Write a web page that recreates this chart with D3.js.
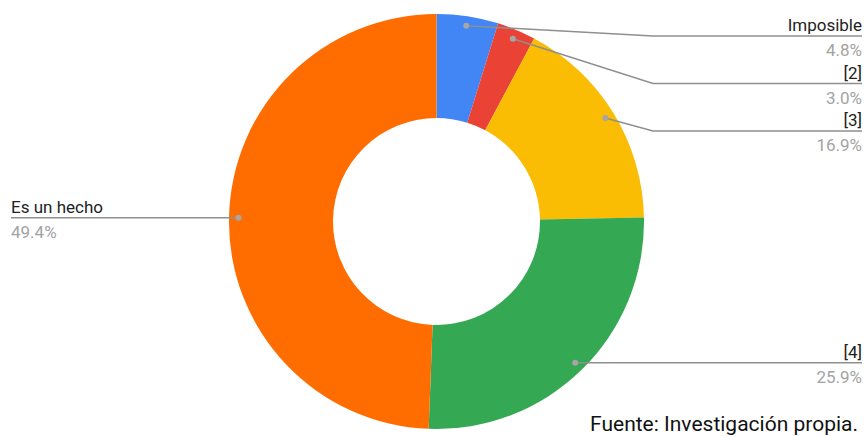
<!DOCTYPE html>
<html>
<head>
<meta charset="utf-8">
<script src="https://cdn.jsdelivr.net/npm/d3@7"></script>
<style>
  html, body { margin: 0; padding: 0; background: #fff; }
  svg { display: block; font-family: Roboto, "Noto Sans", Arial, sans-serif; }
</style>
</head>
<body>
<svg id="chart" width="867" height="436"></svg>
<script>
// Survey answers, clockwise from 12 o'clock
const categories = ["Imposible", "[2]", "[3]", "[4]", "Es un hecho"];
const percents   = [4.8, 3.0, 16.9, 25.9, 49.4];
const colors     = ["#4285F4", "#EA4335", "#FBBC04", "#34A853", "#FF6D01"];
const sourceNote = "Fuente: Investigación propia.";

const W = 867, H = 436;
const cx = 436.5, cy = 221.5;
const outerR = 207.5, innerR = 103.5;
const dotR = 198;

const svg = d3.select("#chart");
const data = categories.map((c, i) => ({ name: c, value: percents[i], color: colors[i] }));

const pie = d3.pie().value(d => d.value).sort(null);
const arcs = pie(data);
const arc = d3.arc().innerRadius(innerR).outerRadius(outerR);
const dotArc = d3.arc().innerRadius(dotR).outerRadius(dotR);

const g = svg.append("g").attr("transform", `translate(${cx},${cy})`);
g.selectAll("path.slice")
  .data(arcs)
  .join("path")
  .attr("class", "slice")
  .attr("d", arc)
  .attr("fill", d => d.data.color);

// Leader lines: dot on the slice, elbow, horizontal run to the label
const rightX = 862, leftX = 11, elbowX = 653;
const gap = 47.5, topMin = 36;

const items = arcs.map(a => {
  const [x, y] = dotArc.centroid(a);
  const mid = (a.startAngle + a.endAngle) / 2;
  return { a, x: x + cx, y: y + cy, right: mid < Math.PI };
});

// stack right-hand labels so they don't overlap
let prev = -Infinity;
items.filter(d => d.right).sort((p, q) => p.y - q.y).forEach(d => {
  d.ly = Math.max(d.y, topMin, prev + gap);
  prev = d.ly;
});
items.filter(d => !d.right).forEach(d => { d.ly = d.y; });

const lines = svg.append("g");
items.forEach(d => {
  let pts;
  if (d.right) {
    const ex = Math.abs(d.ly - d.y) < 0.5 ? d.x : elbowX;
    pts = [[d.x, d.y], [ex, d.ly], [rightX, d.ly]];
  } else {
    pts = [[d.x, d.y], [leftX, d.ly]];
  }
  lines.append("path")
    .attr("d", d3.line()(pts))
    .attr("fill", "none")
    .attr("stroke", "#8f8f8f")
    .attr("stroke-width", 1.5);
  lines.append("circle")
    .attr("cx", d.x).attr("cy", d.y).attr("r", 3)
    .attr("fill", "#a6a6a6");

  const tx = d.right ? rightX : leftX;
  const anchor = d.right ? "end" : "start";
  lines.append("text")
    .attr("x", tx).attr("y", d.ly - 5)
    .attr("text-anchor", anchor)
    .attr("font-size", 17)
    .attr("fill", "#222")
    .text(d.a.data.name);
  lines.append("text")
    .attr("x", tx).attr("y", d.ly + 20)
    .attr("text-anchor", anchor)
    .attr("font-size", 17)
    .attr("fill", "#a3a3a3")
    .text(d.a.data.value.toFixed(1) + "%");
});

svg.append("text")
  .attr("x", 858).attr("y", 431)
  .attr("text-anchor", "end")
  .attr("font-size", 21)
  .attr("fill", "#111")
  .text(sourceNote);
</script>
</body>
</html>
